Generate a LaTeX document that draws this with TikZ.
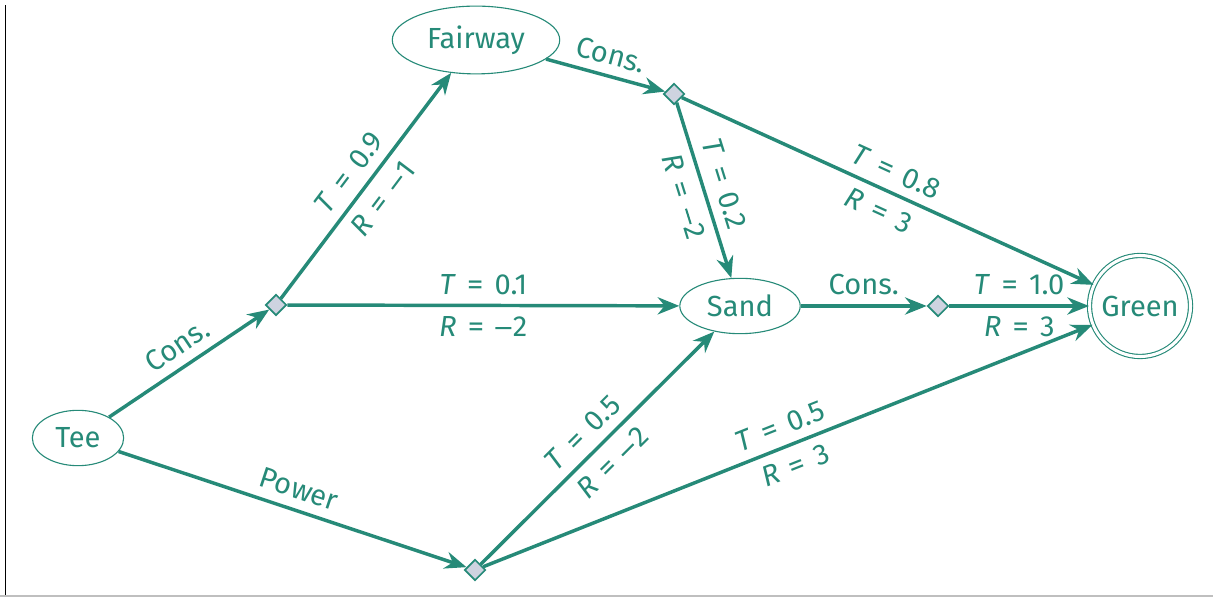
\documentclass[tikz,border=0pt]{standalone}
\usepackage{fontspec}
\setmainfont{Fira Sans}
\usetikzlibrary{shapes.geometric,arrows.meta}
\definecolor{mdpteal}{RGB}{38,138,120}
\definecolor{chancegray}{RGB}{206,211,224}
\newcommand{\tlab}[2]{\textit{#1}\kern0.38em\scalebox{1.15}[1]{=}\kern0.38em#2}
\newcommand{\mns}{\rule[0.25em]{0.55em}{0.07em}\kern0.05em}

\begin{document}
\begin{tikzpicture}[x=1.27cm, y=1.27cm,
  font=\fontsize{10.5}{12}\selectfont,
  state/.style={ellipse, draw=mdpteal, thin, text=mdpteal, inner sep=0pt},
  chance/.style={diamond, draw=mdpteal, fill=chancegray, line width=0.6pt,
    inner sep=0pt, minimum width=7.6pt, minimum height=7.6pt},
  move/.style={draw=mdpteal, line width=1.25pt, -{Stealth[length=7.8pt,width=6.2pt]}},
  lbl/.style={text=mdpteal, sloped}]
  \useasboundingbox (0,0) rectangle (12.13,5.97);
  % frame edges
  \draw[black, line width=0.7pt] (0.055,0) -- (0.055,5.92);
  \draw[black!25, line width=0.6pt] (0,0.01) -- (12.13,0.01);

  % States
  \node[state, minimum width=33pt, minimum height=20pt] (tee) at (0.78, 1.59) {Tee};
  \node[state, minimum width=60.5pt, minimum height=24.5pt] (fairway) at (4.76, 5.57) {Fairway};
  \node[state, minimum width=43.5pt, minimum height=20pt] (sand) at (7.40, 2.91) {Sand};
  \node[circle, draw=mdpteal, thin, double, double distance=1.1pt, text=mdpteal,
    minimum size=36.5pt, inner sep=0pt] (green) at (11.40, 2.91) {Green};

  % Chance nodes
  \node[chance] (tc) at (2.76, 2.92) {};
  \node[chance] (fc) at (6.74, 5.03) {};
  \node[chance] (sc) at (9.38, 2.91) {};
  \node[chance] (tp) at (4.75, 0.27) {};

  % Actions
  \draw[move] (tee) -- (tc) node[lbl, midway, above] {Cons.};
  \draw[move] (tee) -- (tp) node[lbl, midway, above] {Power};
  \draw[move] (fairway) -- (fc) node[lbl, midway, above] {Cons.};
  \draw[move] (sand) -- (sc) node[lbl, midway, above] {Cons.};

  % Transitions
  \draw[move] (tc) -- (fairway)
    node[lbl, midway, above] {\tlab{T}{0.9}}
    node[lbl, midway, below] {\tlab{R}{\mns1}};
  \draw[move] (tc) -- (sand)
    node[lbl, midway, above] {\tlab{T}{0.1}}
    node[lbl, midway, below] {\tlab{R}{\mns2}};
  \draw[move] (fc) -- (sand)
    node[lbl, midway, above] {\tlab{T}{0.2}}
    node[lbl, midway, below] {\tlab{R}{\mns2}};
  \draw[move] (fc) -- (green)
    node[lbl, midway, above] {\tlab{T}{0.8}}
    node[lbl, midway, below] {\tlab{R}{3}};
  \draw[move] (sc) -- (green)
    node[lbl, midway, above] {\tlab{T}{1.0}}
    node[lbl, midway, below] {\tlab{R}{3}};
  \draw[move] (tp) -- (sand)
    node[lbl, midway, above] {\tlab{T}{0.5}}
    node[lbl, midway, below] {\tlab{R}{\mns2}};
  \draw[move] (tp) -- (green)
    node[lbl, midway, above] {\tlab{T}{0.5}}
    node[lbl, midway, below] {\tlab{R}{3}};
\end{tikzpicture}
\end{document}
